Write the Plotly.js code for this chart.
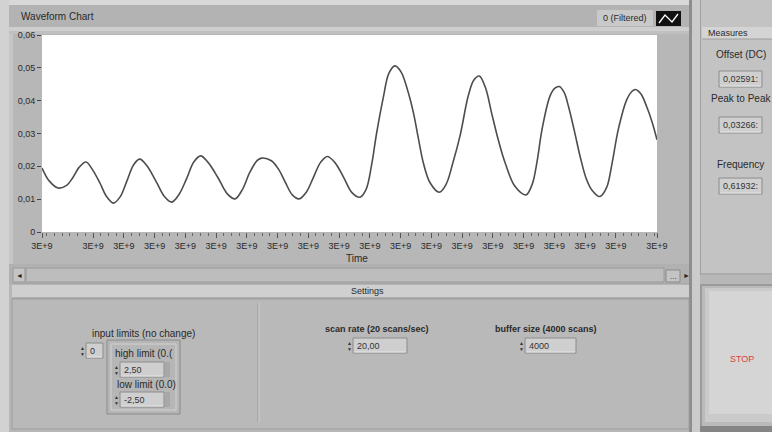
<!DOCTYPE html>
<html><head><meta charset="utf-8">
<script src="https://cdn.plot.ly/plotly-3.0.1.min.js"></script>
<style>html,body{margin:0;padding:0;background:#b8b8b8;overflow:hidden}#chart{width:772px;height:432px}</style>
</head><body><div id="chart"></div>
<script>
// ---- data ----
const time = [0, 1.2, 2.65, 4.0, 5.0, 6.0, 7.15, 8.2, 9.4, 10.5, 11.6, 12.7, 13.8, 14.9, 15.9, 17.0, 18.5, 19.9, 21.1, 22.3, 23.5, 24.7, 25.8, 27.0, 28.6, 30.1, 31.4, 32.6, 33.8, 35.0, 35.7, 37.3, 38.5, 39.6, 40.7, 41.8, 43.0, 44.1, 45.3, 46.4, 47.6, 49.0, 50.4, 51.7, 52.7, 53.6, 54.4, 55.5, 56.4, 57.4, 58.4, 59.4, 60.4, 61.2, 62.0, 63.1, 64.6, 65.7, 66.8, 68.0, 69.3, 70.2, 71.1, 72.1, 73.1, 74.2, 75.3, 76.9, 78.7, 79.7, 80.5, 81.3, 82.6, 83.4, 84.1, 84.9, 85.6, 86.6, 87.5, 88.5, 89.4, 90.7, 91.8, 92.7, 93.7, 95.1, 95.9, 96.5, 97.4, 98.3, 99.2, 100];
const filtered = [0.0195, 0.0155, 0.0134, 0.0142, 0.0165, 0.0196, 0.0213, 0.0190, 0.0150, 0.0108, 0.0088, 0.0107, 0.0155, 0.0205, 0.0222, 0.0203, 0.0156, 0.0108, 0.0091, 0.0115, 0.0162, 0.0214, 0.0232, 0.0212, 0.0166, 0.0117, 0.0101, 0.0130, 0.0182, 0.0218, 0.0225, 0.0217, 0.0190, 0.0150, 0.0113, 0.0101, 0.0122, 0.0165, 0.0212, 0.0230, 0.0212, 0.0168, 0.0120, 0.0106, 0.0130, 0.0205, 0.0300, 0.0410, 0.0483, 0.0506, 0.0487, 0.0435, 0.0363, 0.0285, 0.0211, 0.0150, 0.0121, 0.0145, 0.0210, 0.0295, 0.0414, 0.0462, 0.0475, 0.0440, 0.0363, 0.0280, 0.0211, 0.0139, 0.0113, 0.0145, 0.0215, 0.0312, 0.0414, 0.0438, 0.0443, 0.0425, 0.0383, 0.0305, 0.0230, 0.0162, 0.0128, 0.0108, 0.0135, 0.0210, 0.0312, 0.0404, 0.0428, 0.0434, 0.0420, 0.0383, 0.0335, 0.0281];
const yTickValues = [0, 0.01, 0.02, 0.03, 0.04, 0.05, 0.06];
const yTickLabels = ["0", "0,01", "0,02", "0,03", "0,04", "0,05", "0,06"];
const xTickLabels = ["3E+9","3E+9","3E+9","3E+9","3E+9","3E+9","3E+9","3E+9","3E+9","3E+9","3E+9","3E+9","3E+9","3E+9","3E+9","3E+9","3E+9","3E+9","3E+9","3E+9"];
const measureNames = ["Offset (DC)", "Peak to Peak", "Frequency"];
const measureValues = ["0,02591:", "0,03266:", "0,61932:"];

// ---- geometry helpers ----
const W = 772, H = 432, L = 42, R = 657, T = 35, B = 232;
const X = px => (px - L) / (R - L);
const Y = py => (B - py) / (B - T);
const FONT = "Liberation Sans, Arial, sans-serif";
const shapes = [];
const ann = [];
function rect(x0, y0, x1, y1, fill, line, lw) {
  shapes.push({type: 'rect', xref: 'paper', yref: 'paper', layer: 'below',
    x0: X(x0), x1: X(x1), y0: Y(y1), y1: Y(y0), fillcolor: fill,
    line: {color: line || 'rgba(0,0,0,0)', width: line ? (lw || 1) : 0}});
}
function hline(x0, x1, y, color) {
  shapes.push({type: 'line', xref: 'paper', yref: 'paper', layer: 'below',
    x0: X(x0), x1: X(x1), y0: Y(y), y1: Y(y), line: {color: color, width: 1}});
}
function vline(x, y0, y1, color) {
  shapes.push({type: 'line', xref: 'paper', yref: 'paper', layer: 'below',
    x0: X(x), x1: X(x), y0: Y(y0), y1: Y(y1), line: {color: color, width: 1}});
}
function text(px, py, str, o) {
  o = o || {};
  ann.push({xref: 'paper', yref: 'paper', x: X(px), y: Y(py), text: str, showarrow: false,
    xanchor: o.anchor || 'center', yanchor: 'middle', borderpad: 0,
    font: {family: FONT, size: o.size || 10, color: o.color || '#2a2a2a', weight: o.bold ? 'bold' : 'normal'}});
}
function field(x0, y0, x1, y1, str, spinner) {
  rect(x0, y0, x1, y1, '#cfcfcf', '#8c8c8c');
  hline(x0 + 1, x1 - 1, y1 - 1, '#e4e4e4');
  text(x0 + 3, (y0 + y1) / 2, str, {anchor: 'left', size: 9, color: '#333'});
  if (spinner) {
    text(x0 - 4, (y0 + y1) / 2 - 3, '▲', {size: 5, color: '#333'});
    text(x0 - 4, (y0 + y1) / 2 + 3, '▼', {size: 5, color: '#333'});
  }
}

// ---- frame of the window ----
rect(0, 0, W, 5, '#d8d8d8');
rect(0, 0, 9, H, '#d2d2d2');
rect(9, 5, 689, 27, '#b3b3b3');
rect(9, 27, 689, 31, '#cecece');
rect(9, 31, 689, 34, '#c0c0c0');
rect(9, 34, 13, 264, '#c6c6c6');
text(20, 17, 'Waveform Chart', {anchor: 'left', size: 10});
// legend
rect(597, 10, 653, 26, '#c9c9c9');
text(625, 18, '0 (Filtered)', {size: 9});
rect(656, 11, 681, 26, '#111111');
shapes.push({type: 'path', xref: 'paper', yref: 'paper', layer: 'above',
  path: `M ${X(659)} ${Y(23)} L ${X(665)} ${Y(15)} L ${X(672)} ${Y(22)} L ${X(678)} ${Y(14)}`,
  line: {color: '#ffffff', width: 1.3}});
text(357, 258, 'Time', {size: 10});

// separator + measures panel
rect(689, 0, 692, H, '#8e8e8e');
rect(692, 0, 700, H, '#cbcbcb');
rect(700, 0, W, 275, '#c3c3c3');
hline(700, W, 274, '#949494');
vline(700.5, 0, 275, '#a2a2a2');
rect(702, 27, W, 39, '#d4d4d4');
hline(702, W, 39, '#9e9e9e');
text(707, 33, 'Measures', {anchor: 'left', size: 9});
const mLabelY = [55, 98, 164];
const mField = [[71, 87], [117, 133], [178, 194]];
for (let i = 0; i < measureNames.length; i++) {
  text(741, mLabelY[i], measureNames[i], {size: 10});
  field(719, mField[i][0], 762, mField[i][1], measureValues[i], false);
}

// scrollbar
rect(9, 264, 689, 284, '#b1b1b1');
rect(26, 268, 664, 282, '#bdbdbd', '#9a9a9a');
rect(13, 268, 25, 282, '#c4c4c4', '#9a9a9a');
text(19, 275, '◄', {size: 7, color: '#222'});
rect(666, 270, 680, 282, '#c4c4c4', '#8a8a8a');
text(673, 276, '...', {size: 8, color: '#222'});
text(686, 275, '►', {size: 7, color: '#222'});

// settings tab
rect(12, 284, 689, 298, '#cfcfcf');
hline(12, 689, 284, '#9c9c9c');
hline(12, 689, 298, '#8f8f8f');
text(368, 291, 'Settings', {size: 9});
rect(12, 299, 689, 429, '#b9b9b9', '#9e9e9e');
vline(258, 303, 422, '#999999');
vline(259, 303, 422, '#cfcfcf');

// input limits
text(143, 333, 'input limits (no change)', {size: 10});
field(86, 343, 103, 358, '0', true);
rect(107, 340, 180, 414, '#b6b6b6', '#8a8a8a');
rect(111, 344, 176, 410, 'rgba(0,0,0,0)', '#d2d2d2');
text(114, 353, 'high limit (0.(', {anchor: 'left', size: 10});
field(120, 362, 164, 377, '2,50', true);
rect(165, 362, 170, 377, '#a8a8a8');
text(116, 384, 'low limit (0.0)', {anchor: 'left', size: 10});
field(120, 392, 164, 407, '-2,50', true);
rect(165, 392, 170, 407, '#a8a8a8');

// scan rate / buffer size
text(377, 329, 'scan rate (20 scans/sec)', {size: 9, bold: true});
field(353, 338, 407, 353, '20,00', true);
text(546, 329, 'buffer size (4000 scans)', {size: 9, bold: true});
field(525, 338, 576, 353, '4000', true);

// STOP button
rect(700, 284, W, H, '#9a9a9a');
rect(702, 286, W, 428, '#bababa');
rect(705, 288, W, 422, '#cacaca');
rect(709, 291, W, 414, '#d5d5d5');
rect(700, 426, W, H, '#858585');
text(742, 359, 'STOP', {size: 9, color: '#e0403f'});

// ---- the chart ----
const xTickValues = [0];
for (let i = 0; i < 18; i++) xTickValues.push(8.3 + 5 * i);
xTickValues.push(100);

const trace = {x: time, y: filtered, type: 'scatter', mode: 'lines',
  line: {color: '#4d4d4d', width: 1.6, shape: 'spline', smoothing: 1},
  hoverinfo: 'skip', showlegend: false};

const layout = {
  width: W, height: H,
  margin: {l: L, r: W - R, t: T, b: H - B, pad: 0, autoexpand: false},
  paper_bgcolor: '#b7b7b7', plot_bgcolor: '#ffffff',
  showlegend: false,
  xaxis: {range: [0, 100], tickmode: 'array', tickvals: xTickValues, ticktext: xTickLabels,
    ticks: 'outside', ticklen: 5, tickcolor: '#555', tickwidth: 1,
    minor: {tick0: 8.3, dtick: 1.25, ticks: 'outside', ticklen: 2.5, tickcolor: '#666'},
    showgrid: false, zeroline: false, showline: false, fixedrange: true,
    tickfont: {family: FONT, size: 9, color: '#2a2a2a'}, tickangle: 0},
  yaxis: {range: [0, 0.06], tickmode: 'array', tickvals: yTickValues, ticktext: yTickLabels,
    ticks: 'outside', ticklen: 4, tickcolor: '#444', tickwidth: 1,
    showgrid: false, zeroline: false, showline: false, fixedrange: true,
    tickfont: {family: FONT, size: 9, color: '#2a2a2a'}},
  shapes: shapes, annotations: ann
};
Plotly.newPlot('chart', [trace], layout, {staticPlot: true, displayModeBar: false});
</script></body></html>
